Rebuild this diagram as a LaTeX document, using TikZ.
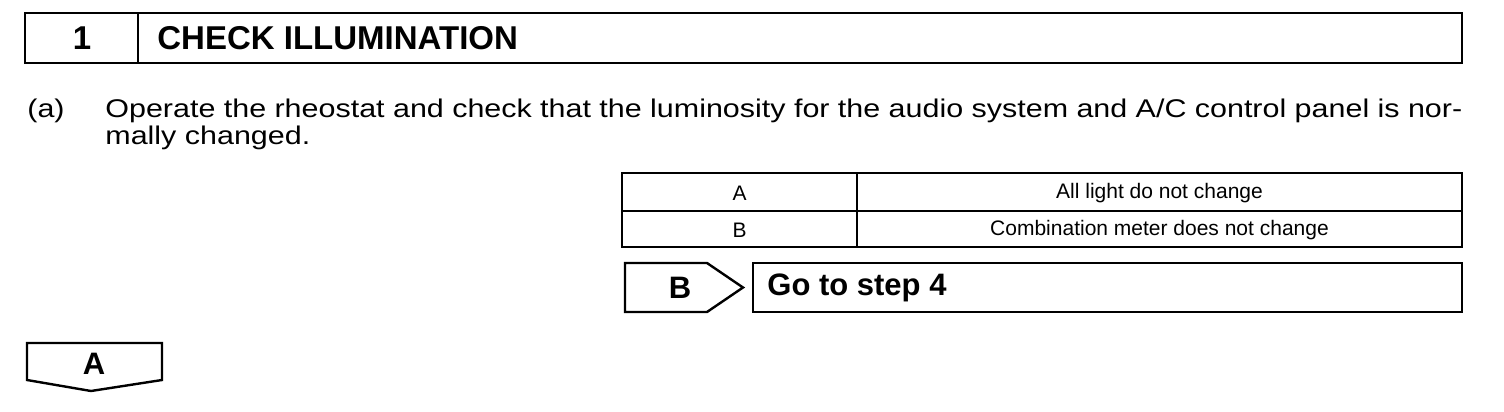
\documentclass[tikz,border=0pt]{standalone}
\usepackage{fontspec}
\setmainfont{Liberation Sans}
\newfontfamily\widesans[FakeStretch=1.19]{Liberation Sans}
\usetikzlibrary{positioning}

\begin{document}
\begin{tikzpicture}[
  x=0.5pt, y=-0.5pt,
  frame/.style={line width=1.2pt, line join=miter},
  rule/.style={line width=1pt},
  head/.style={font=\fontsize{16.5}{19}\selectfont\bfseries, inner sep=0pt},
  tag/.style={font=\fontsize{15.5}{18}\selectfont\bfseries, inner sep=0pt},
  body/.style={font=\widesans\fontsize{12.8}{13.5}\selectfont, inner sep=0pt},
  cell/.style={font=\fontsize{10.5}{12}\selectfont, inner sep=0pt}
]
\useasboundingbox (0,0) rectangle (1504,412);

% step header
\draw[frame] (25,13) rectangle (1462,63);
\draw[frame] (138,13) -- (138,63);
\node[head] (num) at (82,38) {1};
\node[head, anchor=west] (title) at (157,38) {CHECK ILLUMINATION};

% instruction (a)
\node[body, anchor=base west] (item) at (27,117) {(a)};
\node[body, anchor=base west] (line1) at (105,117) {\makebox[678.5pt][s]{Operate the rheostat and check that the luminosity for the audio system and A/C control panel is nor-}};
\node[body, anchor=base west] (line2) at (105,144) {mally changed.};

% result table
\draw[rule] (622,173) rectangle (1462,247);
\draw[rule] (622,211) -- (1462,211);
\draw[rule] (857,173) -- (857,247);
\node[cell] (keya) at (739.5,193) {A};
\node[cell] (vala) at (1159.5,193) {All light do not change};
\node[cell] (keyb) at (739.5,230) {B};
\node[cell] (valb) at (1159.5,230) {Combination meter does not change};

% branch B
\draw[frame] (625,263) -- (707,263) -- (743,287.5) -- (707,312) -- (625,312) -- cycle;
\node[tag] (tagb) at (680,287.5) {B};
\draw[frame] (753,263) rectangle (1462,312);
\node[tag, anchor=west] (goto) at (767,287.5) {Go to step 4};

% branch A
\draw[frame] (27,343) -- (162,343) -- (162,380) -- (91,391) -- (27,380) -- cycle;
\node[tag] (taga) at (94,364) {A};
\end{tikzpicture}
\end{document}
